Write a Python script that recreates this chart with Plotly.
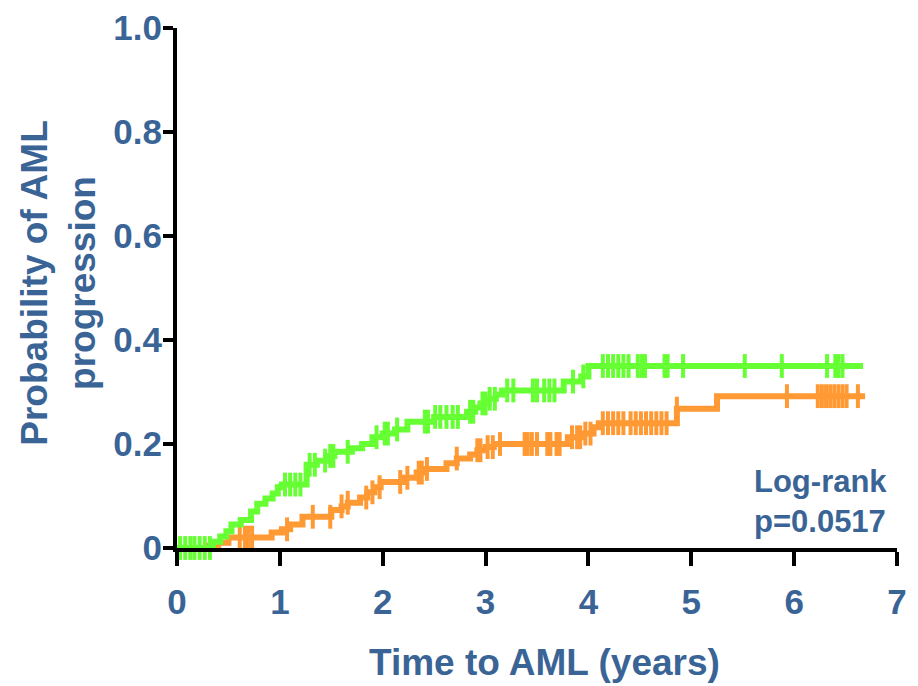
import numpy as np
import plotly.graph_objects as go

# ---- data ----
green_t = [0, 0.35, 0.42, 0.48, 0.53, 0.62, 0.72, 0.78, 0.86, 0.93, 0.98, 1.02, 1.26, 1.36, 1.45,
           1.53, 1.70, 1.80, 1.90, 2.00, 2.12, 2.24, 2.50, 2.82, 2.90, 2.95, 3.03, 3.10, 3.16,
           3.76, 3.93, 4.00]
green_p = [0, 0.012, 0.022, 0.032, 0.045, 0.054, 0.07, 0.085, 0.095, 0.105, 0.117, 0.122, 0.16,
           0.168, 0.177, 0.185, 0.192, 0.20, 0.213, 0.22, 0.228, 0.243, 0.252, 0.262, 0.27, 0.278,
           0.287, 0.295, 0.303, 0.32, 0.33, 0.35]
green_end = 6.67
green_censor = [0.03, 0.08, 0.13, 0.17, 0.22, 0.27, 0.32, 1.05, 1.10, 1.15, 1.20, 1.29, 1.34, 1.44,
                1.49, 1.52, 1.66, 1.94, 2.02, 2.05, 2.14, 2.41, 2.44, 2.51, 2.56, 2.62, 2.68, 2.73,
                2.85, 2.88, 2.97, 3.00, 3.04, 3.09, 3.21, 3.27, 3.46, 3.50, 3.57, 3.62, 3.67, 3.85,
                3.95, 4.14, 4.19, 4.24, 4.29, 4.34, 4.39, 4.48, 4.52, 4.55, 4.74, 4.77, 4.92, 5.52,
                5.88, 6.32, 6.40, 6.43, 6.47]

orange_t = [0, 0.30, 0.40, 0.50, 0.92, 1.02, 1.10, 1.22, 1.50, 1.60, 1.66, 1.78, 1.85, 1.92, 1.98,
            2.20, 2.33, 2.42, 2.62, 2.72, 2.85, 2.92, 3.00, 3.08, 3.80, 3.93, 4.05, 4.10, 4.86, 5.25]
orange_p = [0, 0.005, 0.01, 0.02, 0.03, 0.036, 0.045, 0.06, 0.073, 0.08, 0.087, 0.097, 0.107,
            0.117, 0.127, 0.135, 0.145, 0.152, 0.163, 0.172, 0.18, 0.188, 0.194, 0.20, 0.213,
            0.22, 0.232, 0.24, 0.268, 0.292]
orange_end = 6.69
orange_censor = [0.61, 0.66, 0.69, 0.73, 1.07, 1.32, 1.49, 1.60, 1.66, 1.84, 1.90, 1.97, 2.17, 2.24,
                 2.35, 2.38, 2.43, 2.72, 2.92, 2.95, 3.02, 3.07, 3.14, 3.38, 3.41, 3.45, 3.50, 3.60,
                 3.63, 3.69, 3.72, 3.84, 3.89, 3.92, 3.97, 4.02, 4.14, 4.19, 4.24, 4.29, 4.34, 4.41,
                 4.46, 4.51, 4.56, 4.61, 4.66, 4.71, 4.76, 4.86, 5.93, 6.23, 6.27, 6.31, 6.35, 6.39,
                 6.43, 6.47, 6.51, 6.62]

x_ticks = [0, 1, 2, 3, 4, 5, 6, 7]
y_ticks = [0, 0.2, 0.4, 0.6, 0.8, 1.0]
y_tick_labels = ["0", "0.2", "0.4", "0.6", "0.8", "1.0"]

GREEN = "#66FF33"
ORANGE = "#FF9933"
BLUE = "#3A6496"
FONT = "Arial, Liberation Sans, Helvetica, sans-serif"


def at(ts, ps, c):
    idx = np.searchsorted(np.array(ts), np.array(c), side="right") - 1
    return list(np.array(ps)[idx])


fig = go.Figure()
for ts, ps, end, cens, col in [(orange_t, orange_p, orange_end, orange_censor, ORANGE),
                               (green_t, green_p, green_end, green_censor, GREEN)]:
    fig.add_trace(go.Scatter(x=ts + [end], y=ps + [ps[-1]], mode="lines",
                             line=dict(color=col, width=6, shape="hv"),
                             showlegend=False, hoverinfo="skip"))
    fig.add_trace(go.Scatter(x=cens, y=at(ts, ps, cens), mode="markers",
                             marker=dict(symbol="line-ns", size=17,
                                         line=dict(color=col, width=4)),
                             cliponaxis=False, showlegend=False, hoverinfo="skip"))

axis_common = dict(showgrid=False, zeroline=False, showline=True, linecolor="black",
                   linewidth=4, ticks="outside", tickcolor="black", tickwidth=4,
                   automargin=False,
                   tickfont=dict(family=FONT, size=35, color=BLUE, weight="bold"))

fig.update_xaxes(range=[0, 7], tickvals=x_ticks, ticklen=14, ticklabelstandoff=6,
                 **axis_common)
fig.update_yaxes(range=[0, 1.0], tickvals=y_ticks, ticktext=y_tick_labels, ticklen=10,
                 ticklabelstandoff=-6, **axis_common)

fig.add_annotation(text="Time to AML (years)", xref="paper", yref="paper",
                   x=0.511, y=-0.221, xanchor="center", yanchor="middle", showarrow=False,
                   font=dict(family=FONT, size=37, color=BLUE, weight="bold"))
fig.add_annotation(text="Probability of AML<br>progression", xref="paper", yref="paper",
                   x=-0.164, y=0.51, xanchor="center", yanchor="middle", showarrow=False,
                   textangle=-90,
                   font=dict(family=FONT, size=37, color=BLUE, weight="bold"))
fig.add_annotation(text="Log-rank<br>p=0.0517", xref="paper", yref="paper",
                   x=0.798, y=0.09, xanchor="left", yanchor="middle", align="left",
                   showarrow=False,
                   font=dict(family=FONT, size=31, color=BLUE, weight="bold"))

# the page body has an 8px margin, so the figure is 8px smaller in each direction
fig.update_layout(width=910, height=678, margin=dict(l=169, r=21, t=20, b=138),
                  plot_bgcolor="white", paper_bgcolor="white")

fig.write_html("out.html")
